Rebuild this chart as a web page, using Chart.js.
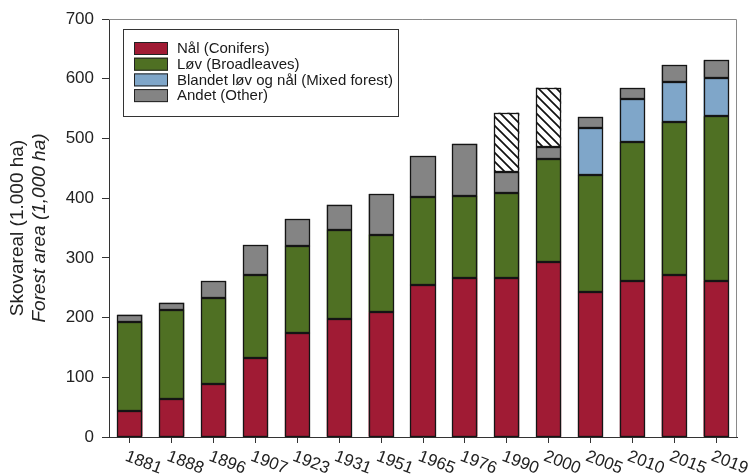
<!DOCTYPE html>
<html>
<head>
<meta charset="utf-8">
<script src="https://cdn.jsdelivr.net/npm/chart.js@4.4.0/dist/chart.umd.min.js"></script>
<style>
  html, body { margin: 0; padding: 0; background: #fff; }
  #wrap { width: 753px; height: 476px; position: relative; }
</style>
</head>
<body>
<div id="wrap"><canvas id="forestChart"></canvas></div>
<script>
// values (1,000 ha per segment)
const years = ['1881', '1888', '1896', '1907', '1923', '1931', '1951', '1965', '1976', '1990', '2000', '2005', '2010', '2015', '2019'];
const conifers = [44, 63, 89, 132, 174, 197, 209, 255, 267, 267, 293, 242, 261, 271, 262];
const broadleaves = [148, 150, 143, 139, 146, 150, 130, 147, 137, 142, 173, 197, 233, 257, 275];
const mixed = [null, null, null, null, null, null, null, null, null, null, null, 79, 72, 67, 65];
const other = [13, 12, 29, 50, 45, 42, 68, 68, 87, 35, 19, 18, 18, 28, 29];
const unclassified = [null, null, null, null, null, null, null, null, null, 99, 100, null, null, null, null]; // hatched part
const seriesLabels = ['Nål (Conifers)', 'Løv (Broadleaves)', 'Blandet løv og nål (Mixed forest)', 'Andet (Other)'];
const seriesColors = ['#A01B34', '#4F7023', '#7FA6C9', '#848484'];
const yTitle = ['Skovareal (1.000 ha)', 'Forest area (1,000 ha)'];

const FONT = '"Liberation Sans", Arial, sans-serif';

function hatchPattern() {
    const c = document.createElement('canvas');
    c.width = 9; c.height = 9;
    const g = c.getContext('2d');
    g.fillStyle = '#fff';
    g.fillRect(0, 0, 9, 9);
    g.strokeStyle = '#111';
    g.lineWidth = 1.7;
    g.beginPath();
    g.moveTo(-1, -1); g.lineTo(10, 10);
    g.moveTo(-1, 8); g.lineTo(1, 10);
    g.moveTo(8, -1); g.lineTo(10, 1);
    g.stroke();
    return g.createPattern(c, 'repeat');
}

// crisp outlines round every bar segment, taken from the bar elements
const outlines = {
    id: 'outlines',
    afterDatasetsDraw(chart) {
        const ctx = chart.ctx;
        ctx.save();
        ctx.strokeStyle = '#151515';
        ctx.lineWidth = 1.3;
        chart.data.datasets.forEach((ds, di) => {
            chart.getDatasetMeta(di).data.forEach((el, i) => {
                if (ds.data[i] == null) return;
                const p = el.getProps(['x', 'y', 'base', 'width'], true);
                const l = Math.round(p.x - p.width / 2) + 0.5;
                const r = Math.round(p.x + p.width / 2) - 0.5;
                const t = Math.round(p.y) + 0.5;
                const b = Math.round(p.base) - 0.5;
                ctx.strokeRect(l, t, r - l, b - t);
            });
        });
        ctx.restore();
    }
};

// legend box, y title, rotated year labels and plot frame
const decorations = {
    id: 'decorations',
    afterDraw(chart) {
        const ctx = chart.ctx;
        const area = chart.chartArea;
        ctx.save();

        // frame top + right
        ctx.strokeStyle = '#8a8a8a';
        ctx.lineWidth = 1;
        ctx.beginPath();
        ctx.moveTo(area.left, area.top + 0.5);
        ctx.lineTo(area.right - 0.5, area.top + 0.5);
        ctx.lineTo(area.right - 0.5, area.bottom);
        ctx.stroke();

        // legend
        ctx.strokeStyle = '#333';
        ctx.strokeRect(123.5, 29.5, 275, 87);
        ctx.font = '15px ' + FONT;
        ctx.textBaseline = 'middle';
        ctx.textAlign = 'left';
        seriesLabels.forEach((lab, i) => {
            const cy = 48.5 + i * 15.7;
            ctx.fillStyle = seriesColors[i];
            ctx.fillRect(134, cy - 6.5, 34, 13);
            ctx.strokeStyle = '#222';
            ctx.strokeRect(134.5, cy - 6, 33, 12);
            ctx.fillStyle = '#1a1a1a';
            ctx.fillText(lab, 177, cy + 0.5);
        });

        // y axis title, two lines, second in italics
        ctx.translate(0, 228);
        ctx.rotate(-Math.PI / 2);
        ctx.textAlign = 'center';
        ctx.fillStyle = '#222';
        ctx.font = '19px ' + FONT;
        ctx.fillText(yTitle[0], 0, 18);
        ctx.font = 'italic 19px ' + FONT;
        ctx.fillText(yTitle[1], 0, 40);
        ctx.restore();

        // x labels, slanted down to the right
        const xs = chart.scales.x;
        ctx.save();
        ctx.font = '17px ' + FONT;
        ctx.fillStyle = '#222';
        ctx.textAlign = 'left';
        ctx.textBaseline = 'top';
        years.forEach((y, i) => {
            const px = xs.getPixelForTick(i);
            ctx.save();
            ctx.translate(px - 1, area.bottom + 11);
            ctx.rotate(21 * Math.PI / 180);
            ctx.fillText(y, 0, 0);
            ctx.restore();
        });
        ctx.restore();
    }
};

const barStyle = { borderWidth: 0, inflateAmount: 0 };

new Chart(document.getElementById('forestChart'), {
    type: 'bar',
    data: {
        labels: years,
        datasets: [
            { label: seriesLabels[0], data: conifers, backgroundColor: seriesColors[0], ...barStyle },
            { label: seriesLabels[1], data: broadleaves, backgroundColor: seriesColors[1], ...barStyle },
            { label: seriesLabels[2], data: mixed, backgroundColor: seriesColors[2], ...barStyle },
            { label: seriesLabels[3], data: other, backgroundColor: seriesColors[3], ...barStyle },
            { label: 'unclassified', data: unclassified, backgroundColor: hatchPattern(), ...barStyle }
        ]
    },
    options: {
        responsive: true,
        maintainAspectRatio: false,
        animation: false,
        datasets: { bar: { categoryPercentage: 1, barPercentage: 0.6 } },
        layout: { padding: { top: 19, right: 16, left: 0, bottom: 0 } },
        plugins: { legend: { display: false }, tooltip: { enabled: false } },
        scales: {
            x: {
                stacked: true,
                grid: { offset: false, drawOnChartArea: false, drawTicks: true, tickLength: 6, color: '#333' },
                border: { color: '#333', width: 1 },
                ticks: { display: false },
                afterFit: s => { s.height = 39; }
            },
            y: {
                stacked: true,
                min: 0,
                max: 700,
                grid: { drawOnChartArea: false, drawTicks: true, tickLength: 7, color: '#333' },
                border: { color: '#333', width: 1 },
                ticks: { stepSize: 100, padding: 8, color: '#222', font: { family: FONT, size: 17 } },
                afterFit: s => { s.width = 109; }
            }
        }
    },
    plugins: [outlines, decorations]
});
</script>
</body>
</html>
